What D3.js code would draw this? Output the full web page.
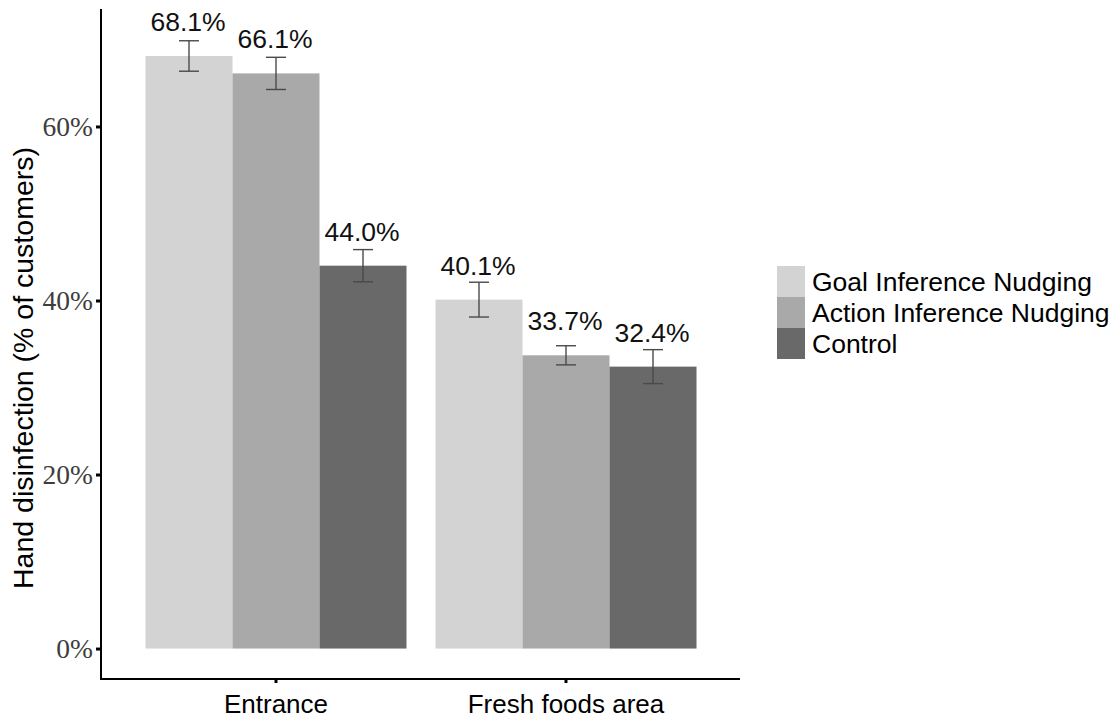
<!DOCTYPE html>
<html>
<head>
<meta charset="utf-8">
<script src="https://cdn.jsdelivr.net/npm/d3@7"></script>
<style>
  html, body { margin: 0; padding: 0; background: #fff; }
  svg { display: block; }
  text { font-family: Arial, "Liberation Sans", sans-serif; }
</style>
</head>
<body>
<svg id="chart" width="1116" height="720"></svg>
<script>
// ---- data ----
const locations = ["Entrance", "Fresh foods area"];
const conditions = ["Goal Inference Nudging", "Action Inference Nudging", "Control"];
const entranceValues = [68.1, 66.1, 44.0];
const freshValues = [40.1, 33.7, 32.4];
const entranceErrors = [1.75, 1.85, 1.85];
const freshErrors = [2.0, 1.1, 1.95];
const yTicks = [0, 20, 40, 60];
const barColors = ["#d3d3d3", "#a9a9a9", "#696969"];

const valuesByLocation = [entranceValues, freshValues];
const errorsByLocation = [entranceErrors, freshErrors];
const rows = [];
locations.forEach((loc, i) => {
  conditions.forEach((c, j) => {
    rows.push({loc, cond: c, value: valuesByLocation[i][j], err: errorsByLocation[i][j]});
  });
});

// ---- layout ----
const svg = d3.select("#chart");
const mLeft = 101, mRight = 740, mTop = 9, mBottom = 679;

const x0 = d3.scaleBand().domain(locations).range([mLeft + 1, mRight])
  .paddingInner(0.1).paddingOuter(0.15);
const x1 = d3.scaleBand().domain(conditions).range([0, x0.bandwidth()]).padding(0);
const y = d3.scaleLinear().domain([-3.5, 73.5]).range([mBottom, mTop]);
const color = d3.scaleOrdinal().domain(conditions).range(barColors);

// bars
svg.append("g").selectAll("rect").data(rows).join("rect")
  .attr("x", d => x0(d.loc) + x1(d.cond))
  .attr("width", x1.bandwidth())
  .attr("y", d => y(d.value))
  .attr("height", d => y(0) - y(d.value))
  .attr("fill", d => color(d.cond));

// error bars
const eb = svg.append("g").attr("stroke", "#4a4a4a").attr("stroke-width", 1.4).attr("fill", "none");
const cap = 10;
rows.forEach(d => {
  const cx = x0(d.loc) + x1(d.cond) + x1.bandwidth() / 2;
  eb.append("line").attr("x1", cx).attr("x2", cx).attr("y1", y(d.value + d.err)).attr("y2", y(d.value - d.err));
  eb.append("line").attr("x1", cx - cap).attr("x2", cx + cap).attr("y1", y(d.value + d.err)).attr("y2", y(d.value + d.err));
  eb.append("line").attr("x1", cx - cap).attr("x2", cx + cap).attr("y1", y(d.value - d.err)).attr("y2", y(d.value - d.err));
});

// value labels
svg.append("g").selectAll("text").data(rows).join("text")
  .attr("x", d => x0(d.loc) + x1(d.cond) + x1.bandwidth() / 2 - 1)
  .attr("y", d => y(d.value) - 25)
  .attr("text-anchor", "middle")
  .attr("font-size", 26.5)
  .attr("fill", "#111")
  .text(d => d.value.toFixed(1) + "%");

// y axis
const yAxis = d3.axisLeft(y).tickValues(yTicks).tickSize(5).tickFormat(d => d + "%");
const gy = svg.append("g").attr("transform", `translate(${mLeft},0)`).call(yAxis);
gy.select(".domain").remove();
gy.selectAll(".tick line").attr("stroke", "#000").attr("stroke-width", 3);
gy.selectAll(".tick text")
  .attr("x", -8)
  .attr("dy", "0.32em")
  .style("font-family", "'Liberation Serif', 'Times New Roman', serif")
  .attr("font-size", 27.5)
  .attr("fill", "#3d3d3d");

// x axis
const xAxis = d3.axisBottom(x0).tickSize(4).tickSizeOuter(0);
const gx = svg.append("g").attr("transform", `translate(0,${mBottom})`).call(xAxis);
gx.select(".domain").remove();
gx.selectAll(".tick line").attr("stroke", "#000").attr("stroke-width", 3);
gx.selectAll(".tick text")
  .attr("y", 34)
  .attr("dy", 0)
  .attr("font-size", 26)
  .attr("fill", "#000")
  .style("font-family", "Arial, 'Liberation Sans', sans-serif");

// axis lines
svg.append("line").attr("x1", mLeft).attr("x2", mLeft).attr("y1", mTop).attr("y2", mBottom + 1)
  .attr("stroke", "#000").attr("stroke-width", 2);
svg.append("line").attr("x1", mLeft - 1).attr("x2", mRight).attr("y1", mBottom).attr("y2", mBottom)
  .attr("stroke", "#000").attr("stroke-width", 2);

// y title
svg.append("text")
  .attr("transform", `translate(33,368) rotate(-90)`)
  .attr("text-anchor", "middle")
  .attr("font-size", 28.5)
  .attr("fill", "#000")
  .text("Hand disinfection (% of customers)");

// legend
const keyH = 31, keyW = 28, lx = 777, ly = 266;
const lg = svg.append("g");
conditions.forEach((c, i) => {
  lg.append("rect").attr("x", lx).attr("y", ly + i * keyH).attr("width", keyW).attr("height", keyH)
    .attr("fill", color(c));
  lg.append("text").attr("x", lx + 35).attr("y", ly + i * keyH + keyH / 2)
    .attr("dy", "0.36em")
    .attr("font-size", 26.5)
    .attr("fill", "#000")
    .text(c);
});
</script>
</body>
</html>
